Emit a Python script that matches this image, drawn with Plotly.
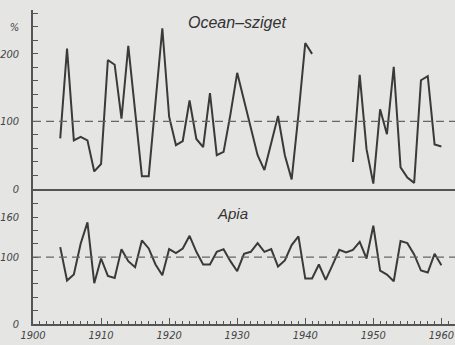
import plotly.graph_objects as go

years = list(range(1904, 1961))
ocean = [75, 208, 72, 77, 72, 26, 37, 191, 184, 104,
         212, 112, 19, 19, 128, 238, 107, 65, 71, 131,
         74, 62, 142, 50, 55, 110, 172, 130, 92, 50,
         28, 70, 108, 50, 14, 110, 216, 200,
         None, None, None, None, None,
         40, 169, 59, 8, 118, 81, 181, 32, 17, 9, 161, 167, 66, 63]
apia = [115, 65, 74, 120, 152, 61, 98, 72, 69, 112,
        94, 85, 125, 113, 89, 73, 112, 106, 113, 132,
        108, 89, 89, 108, 112, 94, 79, 105, 108, 121,
        108, 112, 86, 95, 118, 131, 68, 68, 89, 66,
        88, 111, 107, 111, 123, 98, 147, 80, 74, 64,
        124, 121, 104, 80, 77, 105, 88]

top_ticks = list(range(0, 261, 20))
top_text = {0: "0", 100: "100", 200: "200", 240: "%"}
bot_ticks = list(range(0, 201, 20))
bot_text = {0: "0", 100: "100", 160: "160"}
x_ticks = [1900, 1910, 1920, 1930, 1940, 1950, 1960]

BG = "#e5e5e3"
INK = "#3a3a3a"
AX = "#555555"
FONT = dict(family="Liberation Sans Narrow, DejaVu Sans Condensed, Liberation Sans", size=11,
            color="#444444", style="italic")

fig = go.Figure()
fig.add_trace(go.Scatter(x=years, y=ocean, mode="lines", xaxis="x2", yaxis="y2",
                         line=dict(color=INK, width=2), connectgaps=False,
                         showlegend=False, hoverinfo="skip"))
fig.add_trace(go.Scatter(x=years, y=apia, mode="lines", xaxis="x", yaxis="y",
                         line=dict(color=INK, width=2),
                         showlegend=False, hoverinfo="skip"))

xr = [1900, 1962.0]
fig.update_layout(
    width=455, height=345,
    margin=dict(l=33, r=0, t=10, b=21),
    paper_bgcolor=BG, plot_bgcolor=BG,
    font=FONT,
    xaxis=dict(range=xr, domain=[0, 1], anchor="y", showgrid=False, zeroline=False,
               showline=True, linecolor=AX, linewidth=1.5,
               tickmode="array", tickvals=x_ticks, ticktext=[str(v) for v in x_ticks],
               ticks="inside", ticklen=6, tickcolor=AX, tickwidth=1,
               minor=dict(dtick=1, tick0=1900, ticks="inside", ticklen=3,
                          tickcolor=AX, tickwidth=1, showgrid=False),
               tickfont=FONT),
    yaxis=dict(range=[0, 202], domain=[0, 0.43], anchor="x", showgrid=False, zeroline=False,
               showline=True, linecolor=AX, linewidth=1.5,
               tickmode="array", tickvals=bot_ticks,
               ticktext=[bot_text.get(v, "") for v in bot_ticks],
               ticks="inside", ticklen=5, tickcolor=AX, tickwidth=1,
               ticklabelstandoff=10, tickfont=FONT),
    xaxis2=dict(range=xr, domain=[0, 1], anchor="y2", matches="x", showgrid=False,
                zeroline=False, showline=True, linecolor=AX, linewidth=1.5,
                showticklabels=False, ticks=""),
    yaxis2=dict(range=[0, 265], domain=[0.43, 1], anchor="x2", showgrid=False, zeroline=False,
                showline=True, linecolor=AX, linewidth=1.5,
                tickmode="array", tickvals=top_ticks,
                ticktext=[top_text.get(v, "") for v in top_ticks],
                ticks="inside", ticklen=5, tickcolor=AX, tickwidth=1,
                ticklabelstandoff=10, tickfont=FONT),
    shapes=[
        dict(type="line", xref="x2", yref="y2", x0=1900, x1=1962.0, y0=100, y1=100,
             line=dict(color="#666666", width=1.2, dash="8px,5px")),
        dict(type="line", xref="x", yref="y", x0=1900, x1=1962.0, y0=100, y1=100,
             line=dict(color="#666666", width=1.2, dash="8px,5px")),
    ],
    annotations=[
        dict(text="Ocean–sziget", xref="x2", yref="y2", x=1929.9, y=247, showarrow=False,
             font=dict(family="Liberation Sans, DejaVu Sans", size=16, color="#333333",
                       style="italic")),
        dict(text="Apia", xref="x", yref="y", x=1929.3, y=166, showarrow=False,
             font=dict(family="Liberation Sans, DejaVu Sans", size=15, color="#333333",
                       style="italic")),
    ],
)

fig.write_html("out.html", config={"displayModeBar": False},
               post_script="document.body.style.margin='0';document.body.style.overflow='hidden';")
